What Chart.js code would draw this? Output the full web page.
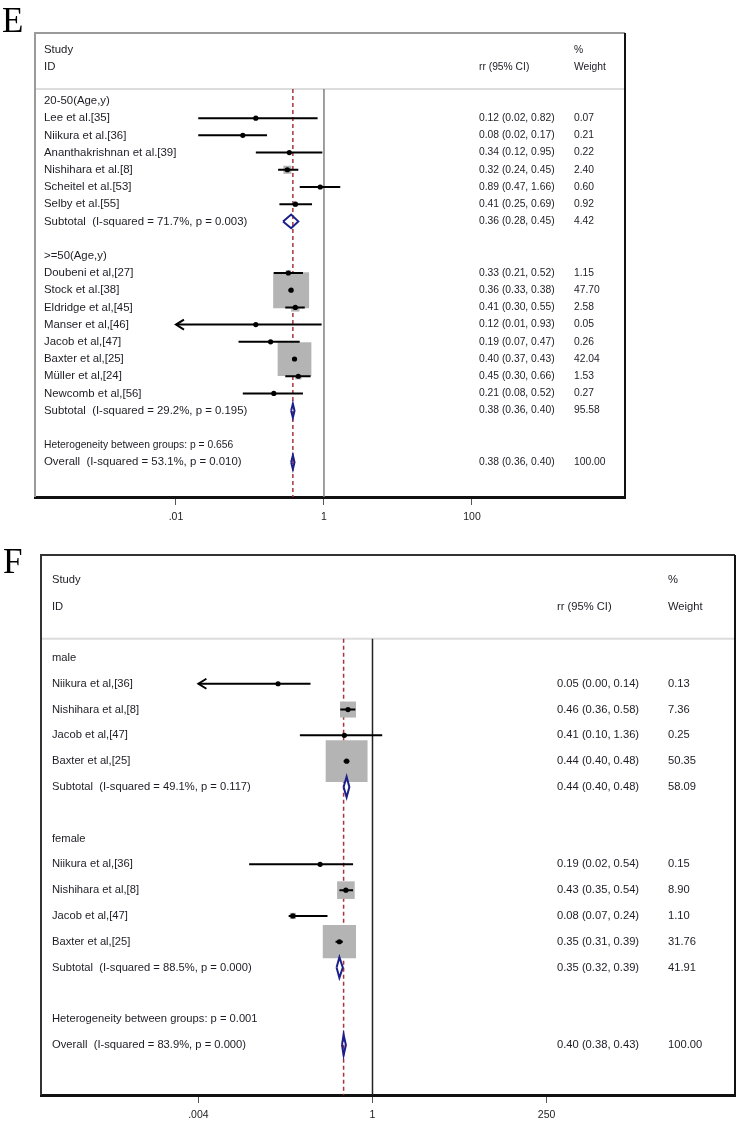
<!DOCTYPE html>
<html>
<head>
<meta charset="utf-8">
<script src="https://cdn.jsdelivr.net/npm/chart.js@4.4.1/dist/chart.umd.min.js"></script>
<style>
  body { margin: 0; background: #fff; }
  #wrap { position: relative; width: 741px; height: 1125px; }
  canvas { position: absolute; left: 0; }
</style>
</head>
<body>
<div id="wrap">
  <canvas id="panelE" width="741" height="540" style="top:0"></canvas>
  <canvas id="panelF" width="741" height="585" style="top:540px"></canvas>
</div>
<script>
// ---- panel E : by age ----
const labelsE = [
  '20-50(Age,y)', 'Lee et al.[35]', 'Niikura et al.[36]', 'Ananthakrishnan et al.[39]',
  'Nishihara et al.[8]', 'Scheitel et al.[53]', 'Selby et al.[55]',
  'Subtotal  (I-squared = 71.7%, p = 0.003)', '',
  '>=50(Age,y)', 'Doubeni et al,[27]', 'Stock et al.[38]', 'Eldridge et al,[45]',
  'Manser et al,[46]', 'Jacob et al,[47]', 'Baxter et al,[25]', 'Müller et al,[24]',
  'Newcomb et al,[56]', 'Subtotal  (I-squared = 29.2%, p = 0.195)', '',
  'Heterogeneity between groups: p = 0.656', 'Overall  (I-squared = 53.1%, p = 0.010)'
];
const kindE = ['group', 'study', 'study', 'study', 'study', 'study', 'study', 'sub', 'blank',
  'group', 'study', 'study', 'study', 'study', 'study', 'study', 'study', 'study', 'sub', 'blank',
  'het', 'overall'];
const rrE = [null, 0.12, 0.08, 0.34, 0.32, 0.89, 0.41, 0.36, null,
  null, 0.33, 0.36, 0.41, 0.12, 0.19, 0.40, 0.45, 0.21, 0.38, null, null, 0.38];
const loE = [null, 0.02, 0.02, 0.12, 0.24, 0.47, 0.25, 0.28, null,
  null, 0.21, 0.33, 0.30, 0.01, 0.07, 0.37, 0.30, 0.08, 0.36, null, null, 0.36];
const hiE = [null, 0.82, 0.17, 0.95, 0.45, 1.66, 0.69, 0.45, null,
  null, 0.52, 0.38, 0.55, 0.93, 0.47, 0.43, 0.66, 0.52, 0.40, null, null, 0.40];
const weightE = [null, 0.07, 0.21, 0.22, 2.40, 0.60, 0.92, 4.42, null,
  null, 1.15, 47.70, 2.58, 0.05, 0.26, 42.04, 1.53, 0.27, 95.58, null, null, 100.00];
const ticksE = [0.01, 1, 100];
const tickLabelsE = ['.01', '1', '100'];

// ---- panel F : by sex ----
const labelsF = [
  'male', 'Niikura et al,[36]', 'Nishihara et al,[8]', 'Jacob et al,[47]', 'Baxter et al,[25]',
  'Subtotal  (I-squared = 49.1%, p = 0.117)', '',
  'female', 'Niikura et al,[36]', 'Nishihara et al,[8]', 'Jacob et al,[47]', 'Baxter et al,[25]',
  'Subtotal  (I-squared = 88.5%, p = 0.000)', '',
  'Heterogeneity between groups: p = 0.001', 'Overall  (I-squared = 83.9%, p = 0.000)'
];
const kindF = ['group', 'study', 'study', 'study', 'study', 'sub', 'blank',
  'group', 'study', 'study', 'study', 'study', 'sub', 'blank', 'het', 'overall'];
const rrF = [null, 0.05, 0.46, 0.41, 0.44, 0.44, null, null, 0.19, 0.43, 0.08, 0.35, 0.35, null, null, 0.40];
const loF = [null, 0.00, 0.36, 0.10, 0.40, 0.40, null, null, 0.02, 0.35, 0.07, 0.31, 0.32, null, null, 0.38];
const hiF = [null, 0.14, 0.58, 1.36, 0.48, 0.48, null, null, 0.54, 0.54, 0.24, 0.39, 0.39, null, null, 0.43];
const weightF = [null, 0.13, 7.36, 0.25, 50.35, 58.09, null, null, 0.15, 8.90, 1.10, 31.76, 41.91, null, null, 100.00];
const ticksF = [0.004, 1, 250];
const tickLabelsF = ['.004', '1', '250'];

const headers = ['Study', 'ID', 'rr (95% CI)', '%', 'Weight'];

Chart.defaults.font.family = "'Liberation Sans', Arial, sans-serif";

const fmt = v => v.toFixed(2);

function buildForest(id, p) {
  const ci = [], arrows = [], dots = [], squares = [], diamonds = [];
  p.kind.forEach((k, i) => {
    if (k === 'study') {
      const lo = Math.max(p.lo[i], p.ticks[0]);
      ci.push({ x: lo, y: i }, { x: p.hi[i], y: i }, { x: null, y: null });
      if (p.lo[i] <= p.ticks[0]) arrows.push({ x: lo, y: i });
      dots.push({ x: p.rr[i], y: i });
      squares.push({ x: p.rr[i], y: i, w: p.weight[i] });
    } else if (k === 'sub' || k === 'overall') {
      const h = p.diamondH;
      diamonds.push({ x: p.lo[i], y: i }, { x: p.rr[i], y: i - h }, { x: p.hi[i], y: i },
        { x: p.rr[i], y: i + h }, { x: p.lo[i], y: i }, { x: null, y: null });
    }
  });
  const overall = p.rr[p.kind.indexOf('overall')];

  const textPlugin = {
    id: 'forestText',
    beforeDatasetsDraw(chart) {
      const { ctx, chartArea: a } = chart;
      const ys = chart.scales.y;
      ctx.save();
      // header separator
      ctx.strokeStyle = '#dcdcdc';
      ctx.lineWidth = 2;
      const sy = ys.getPixelForValue(p.sepRow);
      ctx.beginPath(); ctx.moveTo(a.left, sy); ctx.lineTo(a.right, sy); ctx.stroke();
      // frame top / left / right
      ctx.strokeStyle = p.frameColor;
      ctx.lineWidth = 2;
      ctx.beginPath();
      ctx.moveTo(a.left, a.bottom); ctx.lineTo(a.left, a.top); ctx.lineTo(a.right, a.top);
      ctx.stroke();
      ctx.strokeStyle = '#111';
      ctx.beginPath(); ctx.moveTo(a.right, a.top); ctx.lineTo(a.right, a.bottom); ctx.stroke();
      ctx.restore();
    },
    afterDatasetsDraw(chart) {
      const { ctx } = chart;
      const xs = chart.scales.x, ys = chart.scales.y;
      ctx.save();
      // arrow heads for truncated intervals
      ctx.strokeStyle = '#000';
      ctx.lineWidth = 2;
      arrows.forEach(a => {
        const x = xs.getPixelForValue(a.x), y = ys.getPixelForValue(a.y);
        ctx.beginPath();
        ctx.moveTo(x + 8, y - 5); ctx.lineTo(x, y); ctx.lineTo(x + 8, y + 5);
        ctx.stroke();
      });
      // table text
      ctx.fillStyle = '#1c1c24';
      ctx.textBaseline = 'middle';
      ctx.font = p.labelFont;
      ctx.fillText(headers[0], p.colLabel, ys.getPixelForValue(p.studyRow));
      ctx.fillText(headers[1], p.colLabel, ys.getPixelForValue(p.idRow));
      ctx.font = p.numFont;
      ctx.fillText(headers[2], p.colRR, ys.getPixelForValue(p.idRow));
      ctx.fillText(headers[3], p.colW, ys.getPixelForValue(p.studyRow));
      ctx.fillText(headers[4], p.colW, ys.getPixelForValue(p.idRow));
      p.labels.forEach((lab, i) => {
        const y = ys.getPixelForValue(i);
        ctx.font = p.kind[i] === 'het' ? p.hetFont : p.labelFont;
        ctx.fillText(lab, p.colLabel, y);
        if (p.rr[i] !== null) {
          ctx.font = p.numFont;
          ctx.fillText(`${fmt(p.rr[i])} (${fmt(p.lo[i])}, ${fmt(p.hi[i])})`, p.colRR, y);
          ctx.fillText(fmt(p.weight[i]), p.colW, y);
        }
      });
      // panel letter
      ctx.font = "35px 'Liberation Serif', 'Times New Roman', serif";
      ctx.textBaseline = 'alphabetic';
      ctx.fillStyle = '#000';
      ctx.fillText(p.letter, p.letterX, p.letterY);
      ctx.restore();
    }
  };

  return new Chart(document.getElementById(id), {
    type: 'scatter',
    data: {
      datasets: [
        {
          type: 'line', data: [{ x: 1, y: p.sepRow }, { x: 1, y: p.yMax }],
          borderColor: p.nullColor, borderWidth: 1.5, pointRadius: 0, order: 6
        },
        {
          type: 'line', data: [{ x: overall, y: p.sepRow }, { x: overall, y: p.yMax }],
          borderColor: '#a8343f', borderWidth: 1.5, borderDash: [4, 3], pointRadius: 0, order: 5
        },
        {
          data: squares, pointStyle: 'rect', backgroundColor: '#b4b4b4', borderWidth: 0,
          pointRadius: c => c.raw ? p.sqK * Math.sqrt(c.raw.w) / Math.SQRT2 : 0, order: 4
        },
        {
          type: 'line', data: ci, borderColor: '#000', borderWidth: 2, pointRadius: 0,
          spanGaps: false, order: 3
        },
        {
          type: 'line', data: diamonds, borderColor: '#1b1f8a', borderWidth: 2, pointRadius: 0,
          spanGaps: false, fill: false, order: 2
        },
        {
          data: dots, pointStyle: 'circle', pointRadius: 2.6, backgroundColor: '#000',
          borderWidth: 0, order: 1
        }
      ]
    },
    options: {
      responsive: false,
      devicePixelRatio: 1,
      animation: false,
      layout: { padding: p.padding, autoPadding: false },
      plugins: { legend: { display: false }, tooltip: { enabled: false } },
      scales: {
        x: {
          type: 'logarithmic', min: p.xMin, max: p.xMax,
          afterBuildTicks: s => { s.ticks = p.ticks.map(v => ({ value: v })); },
          afterFit: s => { s.height = 30; s.paddingLeft = 0; s.paddingRight = 0; },
          ticks: {
            autoSkip: false, maxRotation: 0, padding: 6, color: '#222',
            font: { size: 10.5 },
            callback: v => p.tickLabels[p.ticks.indexOf(v)]
          },
          grid: { drawOnChartArea: false, drawTicks: true, tickLength: 8, color: '#555' },
          border: { display: true, color: '#111', width: 3 }
        },
        y: { type: 'linear', reverse: true, min: p.yMin, max: p.yMax, display: false }
      }
    },
    plugins: [textPlugin]
  });
}

buildForest('panelE', {
  labels: labelsE, kind: kindE, rr: rrE, lo: loE, hi: hiE, weight: weightE,
  ticks: ticksE, tickLabels: tickLabelsE,
  xMin: 10 ** -3.905, xMax: 10 ** 4.068, yMin: -3.95, yMax: 23.02,
  studyRow: -2.97, idRow: -1.98, sepRow: -0.70, diamondH: 0.4, sqK: 5.2,
  padding: { left: 35, right: 116, top: 33, bottom: 13 },
  colLabel: 44, colRR: 479, colW: 574,
  labelFont: '11.4px "Liberation Sans", Arial, sans-serif',
  numFont: '10.3px "Liberation Sans", Arial, sans-serif',
  hetFont: '10.3px "Liberation Sans", Arial, sans-serif',
  frameColor: '#9a9a9a', nullColor: '#808080',
  letter: 'E', letterX: 2, letterY: 32
});

buildForest('panelF', {
  labels: labelsF, kind: kindF, rr: rrF, lo: loF, hi: hiF, weight: weightF,
  ticks: ticksF, tickLabels: tickLabelsF,
  xMin: 10 ** -4.566, xMax: 10 ** 4.993, yMin: -3.99, yMax: 16.94,
  studyRow: -3.02, idRow: -1.98, sepRow: -0.74, diamondH: 0.4, sqK: 5.9,
  padding: { left: 41, right: 6, top: 15, bottom: 0 },
  colLabel: 52, colRR: 557, colW: 668,
  labelFont: '11.2px "Liberation Sans", Arial, sans-serif',
  numFont: '11.2px "Liberation Sans", Arial, sans-serif',
  hetFont: '11.2px "Liberation Sans", Arial, sans-serif',
  frameColor: '#333', nullColor: '#222',
  letter: 'F', letterX: 3, letterY: 33
});
</script>
</body>
</html>
